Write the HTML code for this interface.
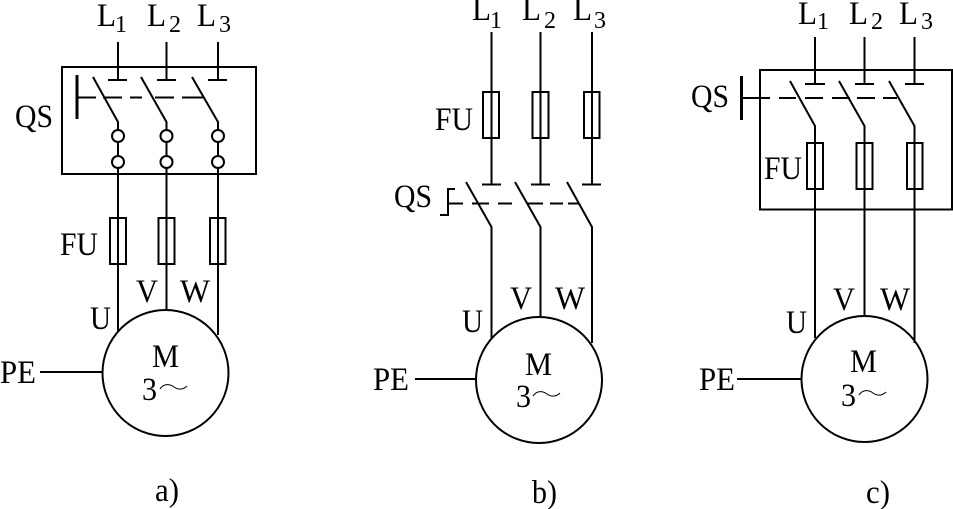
<!DOCTYPE html>
<html><head><meta charset="utf-8"><style>
html,body{margin:0;padding:0;background:#fff;overflow:hidden}
svg{display:block}
text{font-family:"Liberation Serif",serif;font-size:32.500px;fill:#000}
.s{font-size:24px}
.l{font-size:33px}
path,rect,circle,line{fill:none;stroke:#000;stroke-width:2}
</style></head><body>
<svg width="953" height="509" viewBox="0 0 953 509" xmlns="http://www.w3.org/2000/svg">
<!-- a -->
<rect x="62" y="67" width="194" height="107"/>
<path d="M118 42V80M108 80H127M166.500 42V80M157 80H176M218 42V80M208 80H227"/>
<path d="M93 77L118 122V130M118 142V156M118 168V331M141 77L166.500 122V130M166.500 142V156M166.500 168V310M192 77L218 122V130M218 142V156M218 168V335"/>
<circle cx="118" cy="136" r="6"/><circle cx="118" cy="162" r="6"/><circle cx="166.500" cy="136" r="6"/><circle cx="166.500" cy="162" r="6"/><circle cx="218" cy="136" r="6"/><circle cx="218" cy="162" r="6"/>
<path d="M77 75V119" style="stroke-width:3"/>
<path d="M77 97.500H96M103 97.500H122M130 97.500H142M155 97.500H174M182 97.500H204"/>
<rect x="110" y="218" width="16" height="46"/><rect x="158.500" y="218" width="16" height="46"/><rect x="210" y="218" width="15.500" height="46"/>
<circle cx="165.500" cy="373" r="63"/>
<path d="M40 372H102"/>
<path d="M160 389C164 383 170 384 174 387C178 390 183 390 187 386" style="stroke-width:1"/>
<text class="l" x="97" y="26" textLength="19" lengthAdjust="spacingAndGlyphs">L</text><text class="s" x="115" y="32">1</text>
<text class="l" x="147" y="26" textLength="19" lengthAdjust="spacingAndGlyphs">L</text><text class="s" x="169" y="32">2</text>
<text class="l" x="197" y="26" textLength="19" lengthAdjust="spacingAndGlyphs">L</text><text class="s" x="219" y="32">3</text>
<text x="15" y="127" textLength="38" lengthAdjust="spacingAndGlyphs">QS</text><text x="60" y="255" textLength="38" lengthAdjust="spacingAndGlyphs">FU</text>
<text x="90" y="329" textLength="21" lengthAdjust="spacingAndGlyphs">U</text><text x="136" y="302" textLength="22" lengthAdjust="spacingAndGlyphs">V</text><text x="180" y="302" textLength="30" lengthAdjust="spacingAndGlyphs">W</text>
<text x="152" y="367" textLength="27" lengthAdjust="spacingAndGlyphs">M</text><text x="142" y="400" textLength="15" lengthAdjust="spacingAndGlyphs">3</text>
<text x="0" y="383" textLength="36" lengthAdjust="spacingAndGlyphs">PE</text><text x="155" y="501" textLength="24" lengthAdjust="spacingAndGlyphs">a)</text>
<!-- b -->
<path d="M491.500 32V185M482 184.500H501M540.500 32V185M531 184.500H550M592 32V185M582 184.500H601"/>
<rect x="483" y="92" width="16" height="46"/><rect x="532.500" y="92" width="16" height="46"/><rect x="584" y="92" width="15.500" height="46"/>
<path d="M466 182L491.500 227V338M515 182L540.500 227V316M567 182L592 227V343"/>
<path d="M448 203.500H463M472 203.500H489M498 203.500H512M527 203.500H543M550 203.500H563M568 203.500H579"/>
<path d="M455 189H448V215H440"/>
<circle cx="539" cy="380" r="63"/>
<path d="M415 379H476"/>
<path d="M533 396C537 390 543 391 547 394C551 397 556 397 560 393" style="stroke-width:1"/>
<text class="l" x="472" y="20" textLength="19" lengthAdjust="spacingAndGlyphs">L</text><text class="s" x="490" y="28">1</text>
<text class="l" x="522" y="20" textLength="19" lengthAdjust="spacingAndGlyphs">L</text><text class="s" x="544" y="28">2</text>
<text class="l" x="573" y="20" textLength="19" lengthAdjust="spacingAndGlyphs">L</text><text class="s" x="594" y="28">3</text>
<text x="394" y="207" textLength="38" lengthAdjust="spacingAndGlyphs">QS</text><text x="435" y="130" textLength="38" lengthAdjust="spacingAndGlyphs">FU</text>
<text x="462" y="332" textLength="21" lengthAdjust="spacingAndGlyphs">U</text><text x="510" y="309" textLength="22" lengthAdjust="spacingAndGlyphs">V</text><text x="555" y="309" textLength="30" lengthAdjust="spacingAndGlyphs">W</text>
<text x="525" y="375" textLength="27" lengthAdjust="spacingAndGlyphs">M</text><text x="516" y="407" textLength="15" lengthAdjust="spacingAndGlyphs">3</text>
<text x="373" y="390" textLength="36" lengthAdjust="spacingAndGlyphs">PE</text><text x="532" y="503" textLength="25" lengthAdjust="spacingAndGlyphs">b)</text>
<!-- c -->
<rect x="760" y="70" width="192" height="139.500"/>
<path d="M815 37V84M805 84H825M864.500 37V84M855 84H874M914.500 37V84M905 84H924"/>
<path d="M790 81L815 126V338M839 81L864.500 126V316M889 81L914.500 126V343"/>
<rect x="807" y="143" width="16" height="46"/><rect x="856.500" y="143" width="16" height="46"/><rect x="907" y="143" width="15.500" height="46"/>
<path d="M741.500 76V120" style="stroke-width:3"/>
<path d="M741 98H770M779 98H796M805 98H823M832 98H850M857 98H875M883 98H897"/>
<circle cx="864.500" cy="379" r="63"/>
<path d="M737 379H801"/>
<path d="M859 395C863 389 869 390 873 393C877 396 882 396 886 392" style="stroke-width:1"/>
<text class="l" x="798" y="24" textLength="19" lengthAdjust="spacingAndGlyphs">L</text><text class="s" x="817" y="29">1</text>
<text class="l" x="849" y="24" textLength="19" lengthAdjust="spacingAndGlyphs">L</text><text class="s" x="871" y="29">2</text>
<text class="l" x="899" y="24" textLength="19" lengthAdjust="spacingAndGlyphs">L</text><text class="s" x="921" y="29">3</text>
<text x="691" y="107" textLength="38" lengthAdjust="spacingAndGlyphs">QS</text><text x="764" y="179" textLength="38" lengthAdjust="spacingAndGlyphs">FU</text>
<text x="786" y="333" textLength="21" lengthAdjust="spacingAndGlyphs">U</text><text x="833" y="310" textLength="22" lengthAdjust="spacingAndGlyphs">V</text><text x="880" y="310" textLength="30" lengthAdjust="spacingAndGlyphs">W</text>
<text x="850" y="372" textLength="27" lengthAdjust="spacingAndGlyphs">M</text><text x="841" y="406" textLength="15" lengthAdjust="spacingAndGlyphs">3</text>
<text x="699" y="390" textLength="36" lengthAdjust="spacingAndGlyphs">PE</text><text x="866" y="503" textLength="24" lengthAdjust="spacingAndGlyphs">c)</text>
</svg>
</body></html>
